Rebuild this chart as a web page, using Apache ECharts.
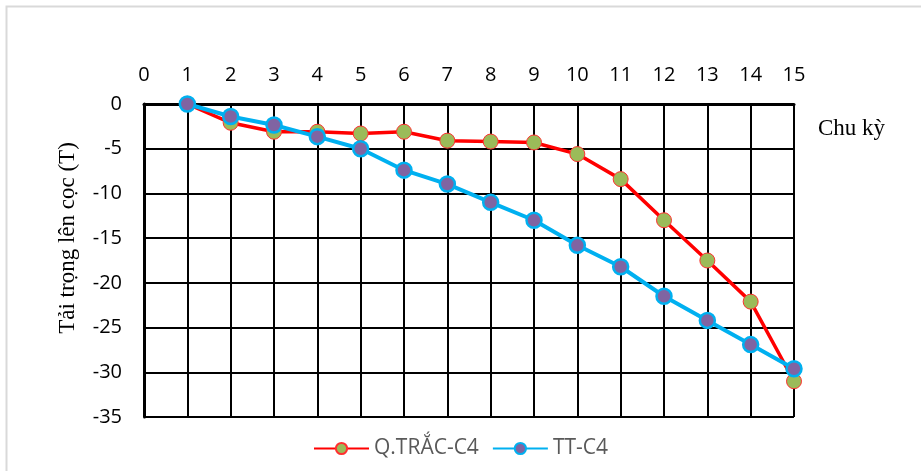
<!DOCTYPE html>
<html><head><meta charset="utf-8">
<script src="https://cdn.jsdelivr.net/npm/echarts@6/dist/echarts.min.js"></script>
<style>html,body{margin:0;padding:0;background:#fff}#c{width:921px;height:471px}</style>
</head><body><div id="c"></div>
<script>
const cycles = [1,2,3,4,5,6,7,8,9,10,11,12,13,14,15];
const qTrac = [0,-2.1,-3.1,-3.1,-3.3,-3.1,-4.1,-4.2,-4.3,-5.6,-8.4,-13.0,-17.5,-22.1,-31.0];
const ttC4 = [0,-1.4,-2.35,-3.65,-5.0,-7.4,-8.95,-11.0,-13.0,-15.8,-18.2,-21.5,-24.2,-26.9,-29.6];
const seriesNames = ['Q.TRẮC-C4','TT-C4'];
const xName = 'Chu kỳ';
const yName = 'Tải trọng lên cọc (T)';

const chart = echarts.init(document.getElementById('c'));
const tickFont = {color:'#000', fontSize:20, fontFamily:'Open Sans'};
chart.setOption({
  animation:false,
  grid:{left:144, right:127, top:104, bottom:54},
  graphic:[
    {type:'rect', shape:{x:6.5,y:6.5,width:930,height:480}, style:{fill:'none', stroke:'#d9d9d9', lineWidth:2}, z:-1},
    {type:'text', x:818, y:129, style:{text:xName, font:'23px "Liberation Serif"', fill:'#000', textVerticalAlign:'middle'}},
    {type:'text', x:68, y:238, rotation:Math.PI/2, style:{text:yName, font:'23px "Liberation Serif"', fill:'#000', textAlign:'center', textVerticalAlign:'middle'}}
  ],
  xAxis:{type:'value', position:'top', min:0, max:15, interval:1,
    axisLine:{show:true, onZero:false, lineStyle:{color:'#000', width:3}},
    axisTick:{show:false},
    axisLabel:Object.assign({margin:19}, tickFont),
    splitLine:{show:true, lineStyle:{color:'#000', width:2}}},
  yAxis:{type:'value', min:-35, max:0, interval:5,
    axisLine:{show:true, onZero:false, lineStyle:{color:'#000', width:3}},
    axisTick:{show:false},
    axisLabel:Object.assign({margin:22}, tickFont),
    splitLine:{show:true, lineStyle:{color:'#000', width:2}}},
  legend:{bottom:7, left:'center', itemWidth:55, itemHeight:14, itemGap:13,
    textStyle:{color:'#595959', fontSize:21, fontFamily:'Open Sans'},
    data:seriesNames},
  series:[
    {name:seriesNames[0], type:'line', data:cycles.map((c,i)=>[c,qTrac[i]]),
     symbol:'circle', symbolSize:15,
     lineStyle:{color:'#ff0000', width:3.5},
     itemStyle:{color:'#9bbb59', borderColor:'#ff3030', borderWidth:1}, z:2},
    {name:seriesNames[1], type:'line', data:cycles.map((c,i)=>[c,ttC4[i]]),
     symbol:'circle', symbolSize:15,
     lineStyle:{color:'#00b0f0', width:4},
     itemStyle:{color:'#8064a2', borderColor:'#00b0f0', borderWidth:2.5}, z:3}
  ]
});
</script></body></html>
